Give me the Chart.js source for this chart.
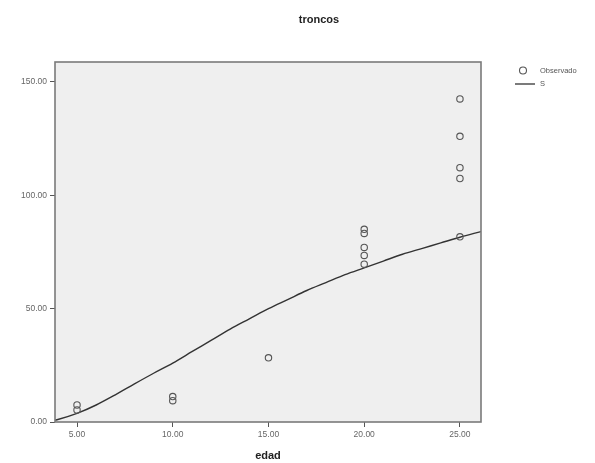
<!DOCTYPE html>
<html>
<head>
<meta charset="utf-8">
<script src="https://cdn.jsdelivr.net/npm/chart.js@4/dist/chart.umd.min.js"></script>
<style>
  html, body { margin: 0; padding: 0; background: #fff; }
  #wrap { width: 595px; height: 463px; }
</style>
</head>
<body>
<div id="wrap"><canvas id="c" width="595" height="463"></canvas></div>
<script>
// observed values (edad, troncos)
const obsEdad = [5, 5, 10, 10, 15, 20, 20, 20, 20, 20, 25, 25, 25, 25, 25];
const obsTroncos = [7.5, 5.3, 11.2, 9.4, 28.3, 85, 83.2, 77, 73.5, 69.6, 142.5, 126, 112.2, 107.4, 81.7];

// fitted S curve
const curveEdad = [3.85, 4, 5, 6, 7, 8, 9, 10, 11, 12, 13, 14, 15, 16, 17, 18, 19, 20, 21, 22, 23, 24, 25, 26.1];
const curveTroncos = [0.8, 1.1, 3.8, 7.5, 12, 16.8, 21.5, 26, 31, 36, 41, 45.5, 50, 54, 58, 61.5, 65, 68, 71, 74, 76.5, 79, 81.5, 84];

const xTicks = [5, 10, 15, 20, 25];
const yTicks = [0, 50, 100, 150];

const tickFont = { family: "Liberation Sans", size: 8.5 };

const deco = {
  id: "deco",
  beforeDraw(chart) {
    const { ctx, chartArea: a } = chart;
    ctx.save();
    ctx.fillStyle = "#efefef";
    ctx.fillRect(a.left, a.top, a.right - a.left, a.bottom - a.top);
    ctx.restore();
  },
  afterDraw(chart) {
    const { ctx, chartArea: a } = chart;
    ctx.save();
    ctx.strokeStyle = "#7a7a7a";
    ctx.lineWidth = 1.6;
    ctx.strokeRect(a.left, a.top, a.right - a.left, a.bottom - a.top);

    // title
    ctx.fillStyle = "#222";
    ctx.font = "bold 11px 'Liberation Sans'";
    ctx.textAlign = "center";
    ctx.textBaseline = "middle";
    ctx.fillText("troncos", 319, 20);

    // legend
    ctx.strokeStyle = "#555";
    ctx.lineWidth = 1.1;
    ctx.beginPath();
    ctx.arc(523, 70.5, 3.5, 0, Math.PI * 2);
    ctx.stroke();
    ctx.strokeStyle = "#333";
    ctx.lineWidth = 1.3;
    ctx.beginPath();
    ctx.moveTo(515, 84);
    ctx.lineTo(535, 84);
    ctx.stroke();
    ctx.fillStyle = "#555";
    ctx.font = "7.5px 'Liberation Sans'";
    ctx.textAlign = "left";
    ctx.fillText("Observado", 540, 70.5);
    ctx.fillText("S", 540, 84);
    ctx.restore();
  }
};

new Chart(document.getElementById("c"), {
  type: "scatter",
  data: {
    datasets: [
      {
        label: "Observado",
        data: obsEdad.map((x, i) => ({ x, y: obsTroncos[i] })),
        pointStyle: "circle",
        pointRadius: 3.2,
        pointBorderWidth: 1.1,
        borderColor: "#555",
        backgroundColor: "rgba(0,0,0,0)",
        order: 1
      },
      {
        label: "S",
        type: "line",
        data: curveEdad.map((x, i) => ({ x, y: curveTroncos[i] })),
        borderColor: "#333",
        borderWidth: 1.4,
        pointRadius: 0,
        fill: false,
        cubicInterpolationMode: "monotone",
        order: 2
      }
    ]
  },
  options: {
    responsive: false,
    animation: false,
    layout: { padding: { left: 0, right: 114, top: 62, bottom: 0 } },
    plugins: { legend: { display: false }, title: { display: false }, tooltip: { enabled: false } },
    scales: {
      x: {
        type: "linear",
        min: 3.85,
        max: 26.1,
        afterBuildTicks: s => { s.ticks = xTicks.map(v => ({ value: v })); },
        afterFit: s => { s.height = 41; },
        ticks: { font: tickFont, color: "#666", padding: 3, maxRotation: 0, callback: v => v.toFixed(2) },
        grid: { display: true, drawOnChartArea: false, drawTicks: true, tickLength: 5, color: "#555" },
        border: { display: false },
        title: { display: true, text: "edad", color: "#222", font: { family: "Liberation Sans", size: 11, weight: "bold" }, padding: { top: 0, bottom: 0 } }
      },
      y: {
        type: "linear",
        min: 0,
        max: 158.8,
        afterBuildTicks: s => { s.ticks = yTicks.map(v => ({ value: v })); },
        afterFit: s => { s.width = 55; },
        ticks: { font: tickFont, color: "#666", padding: 3, callback: v => v.toFixed(2) },
        grid: { display: true, drawOnChartArea: false, drawTicks: true, tickLength: 5, color: "#555" },
        border: { display: false }
      }
    }
  },
  plugins: [deco]
});
</script>
</body>
</html>
